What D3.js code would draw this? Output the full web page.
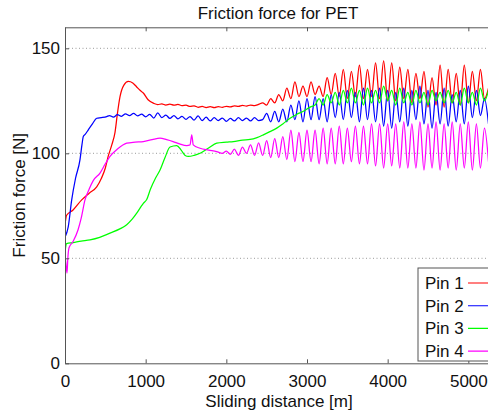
<!DOCTYPE html>
<html>
<head>
<meta charset="utf-8">
<script src="https://cdn.jsdelivr.net/npm/d3@7"></script>
<style>
    body { margin: 0; background: #fff; }
    text { font-family: "Liberation Sans", Arial, sans-serif; fill: #111; }
</style>
</head>
<body>
<div id="chart"></div>
<script>
// tick values and labels
var xTicks = [0, 1000, 2000, 3000, 4000, 5000];
var yTicks = [0, 50, 100, 150];
var seriesNames = ["Pin 1", "Pin 2", "Pin 3", "Pin 4"];
var seriesColors = ["#ff0000", "#0000ff", "#00ff00", "#ff00ff"];

// [sliding distance (m), friction force (N)]
var pin1 = [[0,66],[20,70.5],[100,73],[207,77.8],[300,81],[393,84],[450,88],[500,93],[535,98.5],[580,104],
    [620,110],[650,119],[682,127],[730,132.5],[785,134.2],[840,133.5],[889,131.6],[930,130],[971,128.7],
    [1030,125.5],[1100,123.8],[1150,123.2],[1200,123.5],[1250,123],[1300,123.4],[1350,122.9],[1400,123.3],
    [1450,122.7],[1500,122.9],[1550,122.3],[1600,122.6],[1650,121.9],[1700,122.3],[1750,121.8],[1800,122.2],
    [1850,121.7],[1900,122.2],[1950,121.9],[2000,122.4],[2050,122.1],[2100,122.6],[2150,122.3],[2200,122.8],
    [2250,122.5],[2300,123],[2350,122.7],[2400,123.3],[2450,124],[2500,123],[2550,126],[2600,124],[2650,128],
    [2700,125],[2750,131],[2800,126],[2850,134],[2900,127],[2950,132],[3000,127],[3050,134],[3100,128],
    [3150,132],[3200,127],[3250,136],[3300,128],[3350,138],[3400,127],[3450,140],[3500,126],[3550,139],
    [3600,127],[3650,142],[3700,126],[3750,140],[3800,127],[3850,143],[3900,126],[3950,144],[4000,125],
    [4050,143],[4100,125],[4150,141],[4200,126],[4250,140],[4300,124],[4350,138],[4400,126],[4450,139],
    [4500,122],[4550,136],[4600,123],[4650,142],[4700,122],[4750,140],[4800,124],[4850,138],[4900,123],
    [4950,142],[5000,124],[5050,139],[5100,125],[5150,140],[5200,126],[5250,131]];

var pin2 = [[0,60],[40,65],[83,77.8],[130,88],[186,97],[210,104],[227,108],[250,109],[289,111.2],[340,114],
    [393,116.7],[450,117],[517,117.5],[550,118],[600,117.2],[650,118.4],[700,117.6],[750,118.8],[800,118],
    [850,119],[900,117.8],[950,118.6],[1000,117.4],[1050,118.5],[1100,116.8],[1150,119.2],[1200,117],
    [1250,118.2],[1300,116.6],[1350,118],[1400,116.4],[1450,117.6],[1500,116.2],[1550,117.5],[1600,115.8],
    [1650,117.8],[1700,115.6],[1750,117.2],[1800,115.4],[1850,117],[1900,115.6],[1950,116.8],[2000,115.2],
    [2050,116.6],[2100,115.4],[2150,117],[2200,115.6],[2250,116.8],[2300,115.4],[2350,117],[2400,115.6],
    [2450,116],[2500,119],[2550,115],[2600,120],[2650,115],[2700,121],[2750,115],[2800,123],[2850,116],
    [2900,125],[2950,115],[3000,126],[3050,116],[3100,127],[3150,116],[3200,126],[3250,115],[3300,128],
    [3350,117],[3400,129],[3450,116],[3500,130],[3550,117],[3600,129],[3650,115],[3700,131],[3750,116],
    [3800,130],[3850,115],[3900,131],[3950,113],[4000,130],[4050,112],[4100,129],[4150,115],[4200,131],
    [4250,113],[4300,130],[4350,116],[4400,132],[4450,114],[4500,130],[4550,112],[4600,129],[4650,114],
    [4700,131],[4750,113],[4800,128],[4850,115],[4900,130],[4950,114],[5000,132],[5050,117],[5100,130],
    [5150,118],[5200,126],[5250,114]];

var pin3 = [[0,53],[20,57],[100,57.5],[200,58.2],[310,58.8],[430,60],[558,62],[680,64],[765,66],[830,68.5],
    [889,71.5],[940,74.5],[971,76.2],[1013,78],[1060,83],[1120,88],[1178,92],[1240,98],[1302,103],
    [1385,103.7],[1440,101.5],[1490,99],[1529,98.5],[1600,99],[1674,100],[1780,102.5],[1881,104.8],
    [2000,105.3],[2087,105.6],[2200,106.3],[2294,106.6],[2380,107.5],[2459,108.8],[2540,110.3],[2625,112],
    [2700,114],[2790,116.7],[2870,118.5],[2955,120],[3040,122],[3100,123],[3150,126],[3200,123],[3250,128],
    [3300,124],[3350,129],[3400,123],[3450,130],[3500,124],[3550,131],[3600,124],[3650,130],[3700,123],
    [3750,131],[3800,124],[3850,130],[3900,124],[3950,132],[4000,125],[4050,130],[4100,123],[4150,131],
    [4200,124],[4250,129],[4300,123],[4350,130],[4400,124],[4450,129],[4500,123],[4550,130],[4600,125],
    [4650,129],[4700,124],[4750,130],[4800,124],[4850,129],[4900,123],[4950,131],[5000,124],[5050,129],
    [5100,123],[5150,131],[5200,125],[5250,130]];

var pin4 = [[0,51],[10,48],[25,43],[35,50],[50,55],[100,58],[161,63.5],[200,69],[248,77.8],[300,83],[350,87],
    [434,90.6],[500,95],[558,98.5],[650,102],[765,104.8],[870,105.3],[971,105.6],[1080,106.5],[1178,107.2],
    [1260,106.5],[1340,105.6],[1420,104.5],[1509,103.7],[1550,104],[1571,108.8],[1590,104],[1674,102.4],
    [1780,101.5],[1881,100.8],[1950,100],[2000,101],[2050,99.5],[2100,102],[2150,99],[2200,103],[2250,100],
    [2300,104],[2350,99],[2400,105],[2450,99],[2500,106],[2550,98],[2600,107],[2650,98],[2700,108],[2750,97],
    [2800,111],[2850,96],[2900,110],[2950,96],[3000,111],[3050,96],[3100,111],[3150,95],[3200,112],[3250,95],
    [3300,112],[3350,95],[3400,113],[3450,95],[3500,112],[3550,96],[3600,113],[3650,95],[3700,113],[3750,95],
    [3800,114],[3850,94],[3900,114],[3950,93],[4000,114],[4050,94],[4100,114],[4150,93],[4200,115],[4250,93],
    [4300,114],[4350,93],[4400,115],[4450,92],[4500,114],[4550,93],[4600,115],[4650,92],[4700,114],[4750,93],
    [4800,115],[4850,92],[4900,114],[4950,93],[5000,115],[5050,92],[5100,114],[5150,93],[5200,112],[5250,96]];

var allSeries = [pin1, pin2, pin3, pin4];

var attrs = {
    width: 488,
    height: 414,
    margin: { top: 27.3, right: -0.5, bottom: 50.7, left: 65 },
    fontSize: 17
};
var plotW = attrs.width - attrs.margin.left - attrs.margin.right;
var plotH = attrs.height - attrs.margin.top - attrs.margin.bottom;

var x = d3.scaleLinear().domain([0, 5250]).range([0, plotW]);
var y = d3.scaleLinear().domain([0, 160]).range([plotH, 0]);

var svg = d3.select("#chart").append("svg")
    .attr("width", attrs.width)
    .attr("height", attrs.height);

var g = svg.append("g")
    .attr("transform", "translate(" + attrs.margin.left + "," + attrs.margin.top + ")");

g.append("clipPath").attr("id", "plotclip")
    .append("rect").attr("width", plotW).attr("height", plotH);

// dotted horizontal grid
g.selectAll(".grid").data(yTicks.filter(function(d) { return d > 0; }))
    .enter().append("line")
    .attr("class", "grid")
    .attr("x1", 0).attr("x2", plotW)
    .attr("y1", function(d) { return y(d); })
    .attr("y2", function(d) { return y(d); })
    .attr("stroke", "#9a9a9a")
    .attr("stroke-dasharray", "1,2.5");

// data lines
var line = d3.line()
    .x(function(d) { return x(d[0]); })
    .y(function(d) { return y(d[1]); })
    .curve(d3.curveMonotoneX);

g.append("g").attr("clip-path", "url(#plotclip)")
    .selectAll(".series").data(allSeries)
    .enter().append("path")
    .attr("class", "series")
    .attr("d", line)
    .attr("fill", "none")
    .attr("stroke", function(d, i) { return seriesColors[i]; })
    .attr("stroke-width", 1.25);

// axes, ticks pointing inward
function styleAxis(sel) {
    sel.selectAll("path, line").attr("stroke", "#555");
    sel.selectAll("text").style("font-size", attrs.fontSize + "px").attr("fill", "#111");
}

g.append("g")
    .attr("transform", "translate(0," + plotH + ")")
    .call(d3.axisBottom(x).tickValues(xTicks).tickFormat(d3.format("d"))
        .tickSize(-4).tickSizeOuter(0).tickPadding(11.3))
    .call(styleAxis);

g.append("g")
    .call(d3.axisTop(x).tickValues(xTicks).tickSize(-4).tickSizeOuter(0).tickFormat(""))
    .call(styleAxis);

g.append("g")
    .call(d3.axisLeft(y).tickValues(yTicks).tickSize(-4).tickSizeOuter(0).tickPadding(5))
    .call(styleAxis);

// title and axis labels
svg.append("text")
    .attr("x", 278).attr("y", 18.5)
    .attr("text-anchor", "middle")
    .style("font-size", attrs.fontSize + "px")
    .text("Friction force for PET");

svg.append("text")
    .attr("x", 279).attr("y", 407)
    .attr("text-anchor", "middle")
    .style("font-size", attrs.fontSize + "px")
    .text("Sliding distance [m]");

svg.append("text")
    .attr("transform", "translate(25," + (attrs.margin.top + plotH / 2) + ") rotate(-90)")
    .attr("text-anchor", "middle")
    .style("font-size", attrs.fontSize + "px")
    .text("Friction force [N]");

// legend, cut off by the right edge like the original
var legend = svg.append("g").attr("transform", "translate(418,268)");
legend.append("rect")
    .attr("width", 90).attr("height", 93)
    .attr("fill", "#fff")
    .attr("stroke", "#555");

var rows = legend.selectAll(".row").data(seriesNames)
    .enter().append("g")
    .attr("class", "row")
    .attr("transform", function(d, i) { return "translate(0," + (21 + i * 22.7) + ")"; });
rows.append("text")
    .attr("x", 7)
    .style("font-size", attrs.fontSize + "px")
    .text(function(d) { return d; });
rows.append("line")
    .attr("x1", 50).attr("x2", 90)
    .attr("y1", -6).attr("y2", -6)
    .attr("stroke", function(d, i) { return seriesColors[i]; })
    .attr("stroke-width", 1.1);
</script>
</body>
</html>
